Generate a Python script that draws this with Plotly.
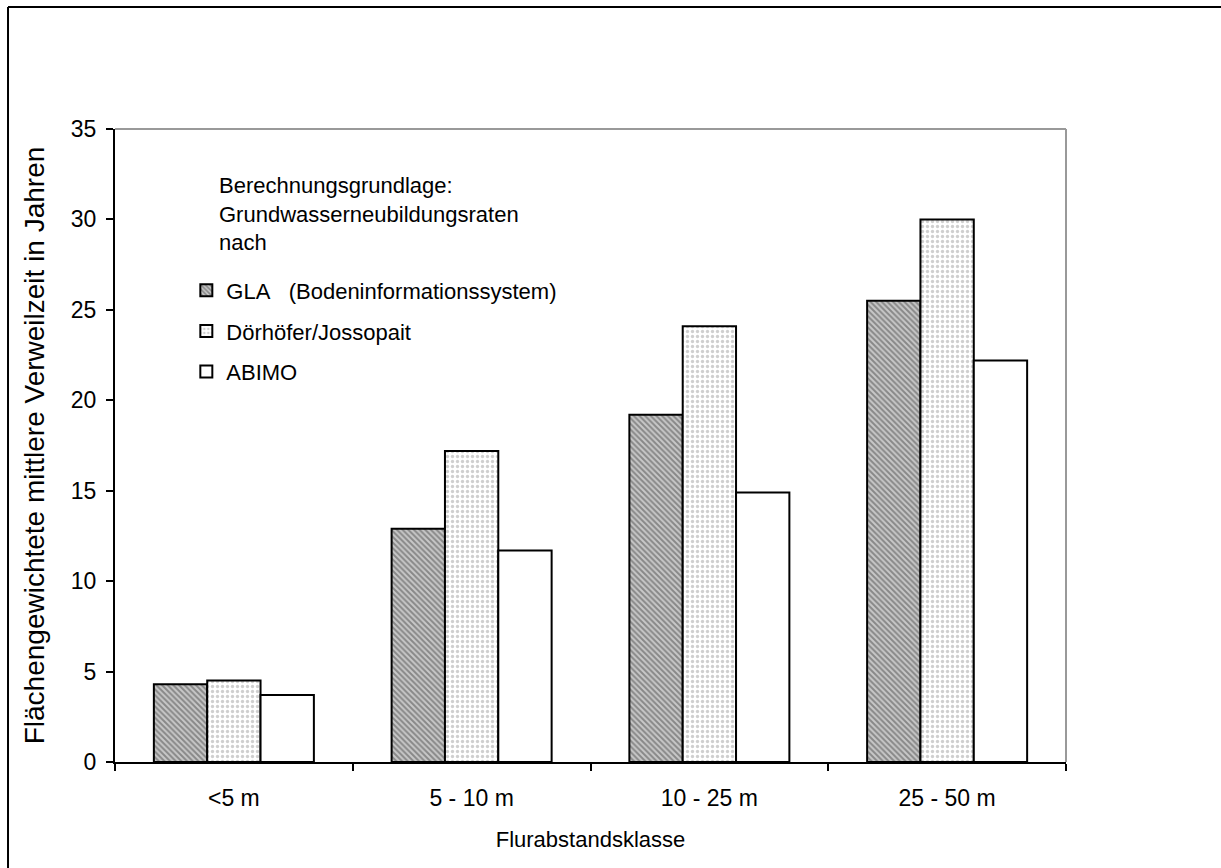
import plotly.graph_objects as go

categories = ["<5 m", "5 - 10 m", "10 - 25 m", "25 - 50 m"]
gla = [4.3, 12.9, 19.2, 25.5]
doerhoefer = [4.5, 17.2, 24.1, 30.0]
abimo = [3.7, 11.7, 14.9, 22.2]
series_names = ["GLA\u00a0\u00a0\u00a0(Bodeninformationssystem)", "Dörhöfer/Jossopait", "ABIMO"]
legend_title = "Berechnungsgrundlage:<br>Grundwasserneubildungsraten<br>nach"
y_ticks = [0, 5, 10, 15, 20, 25, 30, 35]

FONT = "Arial, Liberation Sans, sans-serif"

fig = go.Figure()
fig.add_trace(go.Bar(
    x=categories, y=gla, name=series_names[0], legendgroup="a",
    marker=dict(color="white", line=dict(color="black", width=2),
                pattern=dict(shape="\\", size=4, solidity=0.5, fgcolor="#484848", bgcolor="#c8c8c8")),
))
fig.add_trace(go.Bar(
    x=categories, y=doerhoefer, name=series_names[1], legendgroup="b",
    marker=dict(color="white", line=dict(color="black", width=2),
                pattern=dict(shape=".", size=5, solidity=0.35, fgcolor="#a0a0a0", bgcolor="white")),
))
fig.add_trace(go.Bar(
    x=categories, y=abimo, name=series_names[2], legendgroup="c",
    marker=dict(color="white", line=dict(color="black", width=2)),
))

fig.update_layout(
    width=1221, height=868,
    margin=dict(l=115, r=155, t=129, b=106),
    paper_bgcolor="white", plot_bgcolor="white",
    font=dict(family=FONT, size=23, color="black"),
    barmode="group", bargap=0.327, bargroupgap=0,
    showlegend=True,
    legend=dict(
        x=0.075, y=0.778, xanchor="left", yanchor="top",
        bgcolor="rgba(0,0,0,0)", borderwidth=0,
        font=dict(size=22), itemwidth=30, tracegroupgap=9,
    ),
    annotations=[
        dict(text=legend_title, xref="paper", yref="paper", x=0.107, y=0.934,
             xanchor="left", yanchor="top", align="left", showarrow=False,
             font=dict(size=22)),
    ],
    xaxis=dict(
        showline=True, linecolor="black", linewidth=2,
        ticks="outside", ticklen=7, tickwidth=1.5, tickcolor="black",
        tickson="boundaries", showgrid=False, zeroline=False,
        title=dict(text="Flurabstandsklasse", standoff=22, font=dict(size=22)),
        ticklabelstandoff=14,
    ),
    yaxis=dict(
        range=[0, 35], tickvals=y_ticks, showline=True, linecolor="black", linewidth=2,
        ticks="outside", ticklen=7, tickwidth=1.5, tickcolor="black",
        showgrid=False, zeroline=False, ticklabelstandoff=5,
        title=dict(text="Flächengewichtete mittlere Verweilzeit in Jahren", standoff=18, font=dict(size=28)),
    ),
    shapes=[
        dict(type="line", xref="paper", yref="paper", x0=0, x1=1, y0=1, y1=1,
             line=dict(color="#999999", width=2)),
        dict(type="line", xref="paper", yref="paper", x0=1, x1=1, y0=0, y1=1,
             line=dict(color="#999999", width=2)),
        dict(type="line", xref="paper", yref="paper", x0=-0.1125, x1=1.2, y0=1.1927, y1=1.1927,
             line=dict(color="black", width=2)),
        dict(type="line", xref="paper", yref="paper", x0=-0.1125, x1=-0.1125, y0=-0.2, y1=1.1927,
             line=dict(color="black", width=2)),
    ],
)

fig.write_html("out.html")
